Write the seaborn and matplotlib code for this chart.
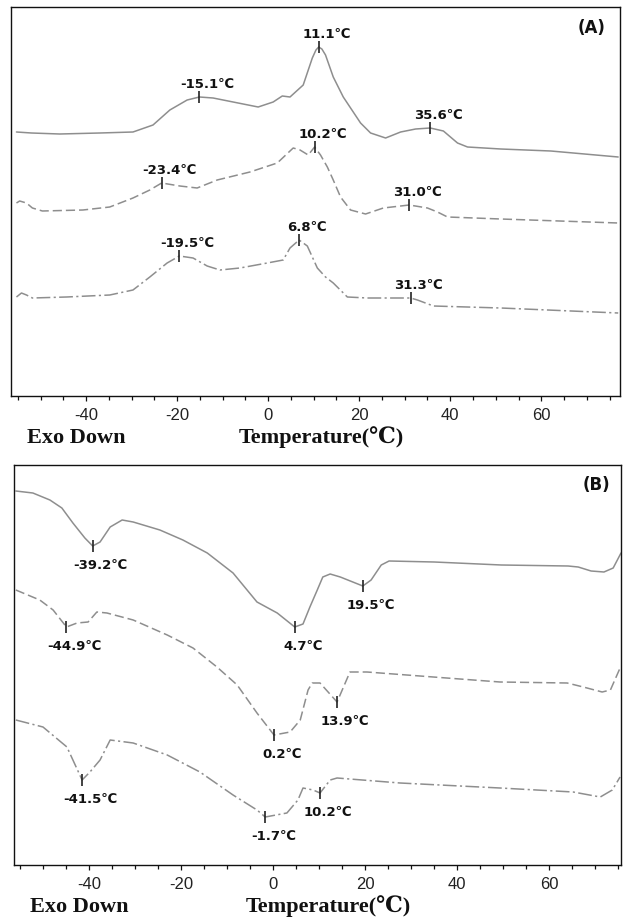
import numpy as np
import pandas as pd
import matplotlib
matplotlib.use("Agg")
import matplotlib.pyplot as plt
import seaborn as sns
from matplotlib.ticker import MultipleLocator

# ---------------- data (temperature in degC, heat flow in arbitrary units) ----------------
A1_T = [-55.3, -52.0, -45.8, -37.0, -29.7, -25.3, -21.6, -17.8, -15.1, -12.1, -7.7, -2.2, 1.1, 3.1, 4.8,
        7.7, 9.7, 10.5, 11.1, 11.8, 12.6, 14.3, 16.5, 20.3, 22.5, 25.8, 29.1, 32.4, 35.6, 38.5, 41.6, 43.8,
        51.1, 62.1, 76.9]
A1_V = [264, 263, 262, 263, 264, 271, 286, 296, 299, 298, 294, 289, 294, 300, 299,
        311, 338, 346, 349, 347, 341, 319, 299, 273, 263, 258, 264, 267, 268, 265, 253, 249,
        247, 245, 239]

A2_T = [-55.3, -54.6, -53.1, -51.8, -49.6, -40.7, -34.8, -29.7, -26.0, -23.4, -19.4, -15.6, -11.2, -4.0, 2.0,
        5.5, 7.0, 8.8, 10.2, 11.5, 13.0, 14.3, 15.9, 18.1, 21.4, 25.3, 31.0, 35.0, 37.2, 39.4, 51.1, 76.9]
A2_V = [193, 195, 193, 188, 185, 186, 189, 198, 206, 213, 210, 208, 216, 224, 233,
        248, 246, 241, 249, 241, 229, 216, 199, 186, 182, 188, 191, 188, 184, 179, 177, 173]

A3_T = [-55.3, -54.2, -53.1, -51.8, -44.3, -34.8, -29.7, -26.0, -22.2, -19.5, -16.5, -13.4, -10.6, -6.2, -0.2,
        3.3, 4.8, 6.8, 8.6, 10.8, 12.6, 14.3, 17.4, 21.8, 31.3, 32.8, 36.3, 51.1, 76.9]
A3_V = [99, 103, 101, 98, 99, 101, 106, 119, 133, 140, 138, 130, 126, 128, 133,
        136, 148, 156, 150, 128, 119, 113, 99, 98, 98, 96, 90, 88, 83]

B1_T = [-55.9, -52.2, -48.5, -45.9, -43.5, -40.9, -39.2, -37.6, -35.4, -32.8, -30.4, -24.6, -19.6, -14.3, -8.7,
        -3.5, 0.9, 4.7, 6.5, 8.0, 9.6, 10.8, 12.4, 14.6, 19.5, 21.3, 23.5, 25.2, 35.0, 49.6, 64.1, 66.3, 69.1,
        71.9, 73.9, 75.6]
B1_V = [374, 372, 365, 357, 342, 327, 319, 323, 338, 345, 343, 335, 325, 312, 292,
        263, 252, 238, 241, 258, 275, 288, 291, 288, 279, 285, 300, 304, 303, 300, 299, 298, 294,
        293, 297, 312]

B2_T = [-55.9, -50.7, -47.8, -44.9, -42.6, -40.2, -38.3, -36.1, -30.4, -23.0, -17.4, -12.2, -7.8, -3.5, 0.2,
        3.7, 5.9, 7.6, 8.5, 10.2, 13.9, 16.7, 20.4, 34.8, 49.3, 63.9, 67.4, 71.5, 73.3, 75.4]
B2_V = [275, 265, 255, 238, 242, 243, 253, 252, 245, 230, 217, 198, 180, 152, 130,
        133, 145, 175, 182, 182, 163, 193, 193, 188, 183, 182, 178, 173, 175, 197]

B3_T = [-55.9, -50.0, -44.8, -41.5, -39.8, -37.6, -35.4, -30.4, -23.0, -15.9, -8.7, -3.5, -1.7,
        3.0, 5.4, 6.5, 8.7, 10.2, 12.4, 13.9, 27.6, 49.3, 65.2, 71.1, 73.7, 75.4]
B3_V = [145, 138, 118, 85, 93, 105, 125, 122, 110, 93, 70, 55, 48,
        52, 65, 77, 75, 72, 85, 87, 82, 77, 73, 68, 75, 88]

A_PEAK_T = [-15.1, 11.1, 35.6, -23.4, 10.2, 31.0, -19.5, 6.8, 31.3]
A_PEAK_V = [299, 349, 268, 213, 249, 191, 140, 156, 98]
B_PEAK_T = [-39.2, 4.7, 19.5, -44.9, 0.2, 13.9, -41.5, -1.7, 10.2]
B_PEAK_V = [319, 238, 279, 238, 130, 163, 85, 48, 72]

SAMPLES = ["s1", "s2", "s3"]
PANEL_LABELS = ["(A)", "(B)"]
X_TITLE = "Temperature(\u2103)"
EXO = "Exo Down"

# ---------------- style ----------------
sns.set_style("white")
plt.rcParams["font.family"] = ["DejaVu Sans"]
plt.rcParams["axes.unicode_minus"] = False
LINE = "#8e8e8e"
INK = "#111111"
DASHES = {"s1": "", "s2": (6, 2.6), "s3": (9, 2.2, 1.4, 2.2)}
SERIF = ["Liberation Serif", "DejaVu Serif"]


def make_df(ts, vs):
    frames = []
    for name, t, v in zip(SAMPLES, ts, vs):
        frames.append(pd.DataFrame({"T": t, "v": v, "sample": name}))
    return pd.concat(frames, ignore_index=True)


fig = plt.figure(figsize=(6.24, 9.18), dpi=100)
axA = fig.add_axes([11 / 624, 1 - 396 / 918, 609 / 624, 389 / 918])
axB = fig.add_axes([14 / 624, 1 - 865 / 918, 607 / 624, 400 / 918])

dfA = make_df([A1_T, A2_T, A3_T], [A1_V, A2_V, A3_V])
dfB = make_df([B1_T, B2_T, B3_T], [B1_V, B2_V, B3_V])

panels = [
    (axA, dfA, (-56.5, 77.3), (0, 389), A_PEAK_T, A_PEAK_V, "up", 164),
    (axB, dfB, (-56.3, 75.6), (0, 400), B_PEAK_T, B_PEAK_V, "down", 167),
]

for i, (ax, df, xl, yl, pt, pv, where, tx) in enumerate(panels):
    sns.lineplot(data=df, x="T", y="v", style="sample", dashes=DASHES, color=LINE,
                 linewidth=1.1, sort=False, estimator=None, legend=False, ax=ax)
    ax.set_xlim(*xl)
    ax.set_ylim(*yl)
    ax.set_yticks([])
    ax.set_xlabel("")
    ax.set_ylabel("")
    ax.xaxis.set_major_locator(MultipleLocator(20))
    ax.xaxis.set_minor_locator(MultipleLocator(5))
    ax.tick_params(axis="x", which="both", bottom=True, direction="out", color=INK,
                   width=0.9, labelsize=12, labelcolor="#222222", pad=5)
    ax.tick_params(axis="x", which="major", length=3.5)
    ax.tick_params(axis="x", which="minor", length=3)
    for lab in ax.get_xticklabels():
        lab.set_family("Liberation Sans")
    for s in ax.spines.values():
        s.set_visible(True)
        s.set_color(INK)
        s.set_linewidth(1.0)

    pv_arr = np.asarray(pv, dtype=float)
    ax.vlines(pt, pv_arr - 6, pv_arr + 6, color="#222222", linewidth=1.2)
    for t, v in zip(pt, pv):
        if where == "up":
            ax.annotate(f"{t:.1f}\u2103", xy=(t, v), xytext=(5.8, 6.5), textcoords="offset points",
                        ha="center", va="baseline", fontsize=9.5, fontweight="bold", color=INK)
        else:
            ax.annotate(f"{t:.1f}\u2103", xy=(t, v), xytext=(5.8, -9.4), textcoords="offset points",
                        ha="center", va="top", fontsize=9.5, fontweight="bold", color=INK)

    ax.text(0.953 if i == 0 else 0.960, 0.946 if i == 0 else 0.95, PANEL_LABELS[i],
            transform=ax.transAxes, ha="center", va="center", fontsize=12,
            fontweight="bold", color=INK)

    ax.annotate(EXO, xy=(0, 0), xycoords="axes fraction", xytext=(11.5, -34),
                textcoords="offset points", ha="left", va="baseline", fontsize=16,
                fontweight="bold", family=SERIF, color=INK)
    ax.annotate(X_TITLE, xy=(0, 0), xycoords="axes fraction", xytext=(tx, -34),
                textcoords="offset points", ha="left", va="baseline", fontsize=16,
                fontweight="bold", family=SERIF, color=INK)

fig.savefig("out.png", dpi=100)
